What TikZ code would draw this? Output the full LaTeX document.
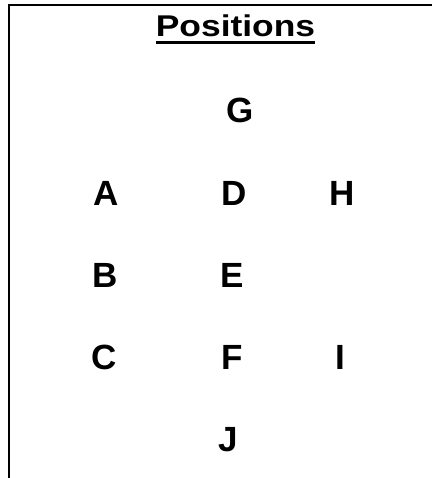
\documentclass[tikz,border=0pt]{standalone}
\usepackage{fontspec}
\setmainfont{Liberation Sans}
\newfontfamily\titlefont[FakeStretch=1.18]{Liberation Sans}
\begin{document}
\begin{tikzpicture}[x=1pt,y=-1pt,
  lbl/.style={font=\fontsize{35}{35}\selectfont\bfseries, inner sep=0pt, anchor=base},
  ttl/.style={font=\titlefont\fontsize{30}{30}\selectfont\bfseries, inner sep=0pt, anchor=base},
  frame/.style={line width=2.2pt},
  uline/.style={line width=3pt}]
\useasboundingbox (0,0) rectangle (432,478);
\coordinate (fb) at (9,478);
\coordinate (fc) at (9,5);
\coordinate (fr) at (432,5);
\draw[frame] (fb) -- (fc) -- (fr);
\node[ttl] (title) at (235.5,37) {Positions};
\draw[uline] ([yshift=-5.5pt]title.base west) -- ([yshift=-5.5pt]title.base east);
\node[lbl] (G) at (240,123) {G};
\node[lbl] (A) at (106,205) {A};
\node[lbl] (D) at (234,205) {D};
\node[lbl] (H) at (342,205) {H};
\node[lbl] (B) at (105,287) {B};
\node[lbl] (E) at (232,287) {E};
\node[lbl] (C) at (104,369) {C};
\node[lbl] (F) at (232,369) {F};
\node[lbl] (I) at (340,369) {I};
\node[lbl] (J) at (228,451) {J};
\end{tikzpicture}
\end{document}
